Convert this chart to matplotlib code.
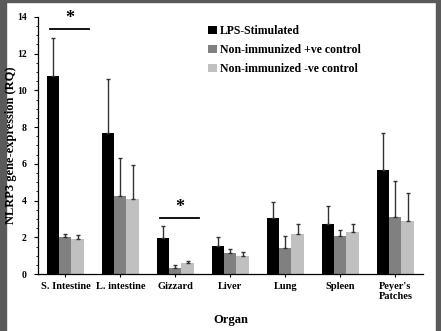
import matplotlib
matplotlib.use("Agg")
import matplotlib.pyplot as plt
from matplotlib.patches import Rectangle
import numpy as np

organs = ["S. Intestine", "L. intestine", "Gizzard", "Liver", "Lung", "Spleen", "Peyer's\nPatches"]
series = ["LPS-Stimulated", "Non-immunized +ve control", "Non-immunized -ve control"]
lps = [10.8, 7.7, 1.96, 1.52, 3.07, 2.7, 5.66]
lps_err = [2.07, 2.94, 0.67, 0.5, 0.83, 1.0, 2.0]
pos = [2.0, 4.27, 0.35, 1.14, 1.42, 2.09, 3.09]
pos_err = [0.2, 2.05, 0.14, 0.2, 0.67, 0.31, 1.99]
neg = [1.9, 4.1, 0.58, 1.0, 2.2, 2.29, 2.9]
neg_err = [0.22, 1.84, 0.11, 0.21, 0.5, 0.41, 1.53]
colors = ["#000000", "#808080", "#c0c0c0"]

plt.rcParams["font.family"] = "Liberation Serif"
plt.rcParams["font.weight"] = "bold"

fig = plt.figure(figsize=(4.41, 3.31), dpi=100)
ax = fig.add_axes([0.086, 0.172, 0.873, 0.777])

x = np.arange(len(organs))
w = 0.22
for i, (vals, errs) in enumerate([(lps, lps_err), (pos, pos_err), (neg, neg_err)]):
    ax.bar(x + (i - 1) * w, vals, w, color=colors[i], label=series[i],
           yerr=[np.zeros(len(errs)), errs], ecolor="#333333",
           error_kw=dict(elinewidth=1.0, capsize=1.5, capthick=1.0))

# significance markers
ax.plot([-0.28, 0.42], [13.35, 13.35], color="black", lw=1.3)
ax.text(0.07, 13.45, "*", ha="center", va="bottom", fontsize=13, fontweight="bold")
ax.plot([1.72, 2.42], [3.07, 3.07], color="black", lw=1.3)
ax.text(2.07, 3.17, "*", ha="center", va="bottom", fontsize=13, fontweight="bold")

ax.set_xlim(-0.5, len(organs) - 0.5)
ax.set_ylim(0, 14)
ax.set_yticks(np.arange(0, 15, 2))
ax.set_yticks(np.arange(0, 14.1, 0.5), minor=True)
ax.set_xticks(x)
ax.set_xticklabels(organs, fontsize=7.5, fontweight="bold", linespacing=1.2)
ax.tick_params(axis="y", labelsize=7, length=3, width=0.8, pad=5)
ax.tick_params(axis="y", which="minor", length=1.5, width=0.6)
ax.tick_params(axis="x", length=2, width=0.8)
for s in ["top", "right"]:
    ax.spines[s].set_visible(False)
for s in ["left", "bottom"]:
    ax.spines[s].set_linewidth(0.9)

ax.set_xlabel("Organ", fontsize=9, fontweight="bold", labelpad=9)
ax.set_ylabel("NLRP3 gene-expression (RQ)", fontsize=9, fontweight="bold")
ax.yaxis.set_label_coords(-0.054, 0.5)

ax.legend(loc="upper left", bbox_to_anchor=(0.415, 1.01), frameon=False,
          handlelength=0.7, handleheight=0.7, handletextpad=0.3,
          labelspacing=0.6, prop={"family": "Liberation Serif", "weight": "bold", "size": 8.5})

# screenshot frame
for r in [(0, 0, 6 / 441, 1), (436 / 441, 0, 5 / 441, 1), (0, 1 - 2 / 331, 1, 2 / 331)]:
    fig.patches.append(Rectangle(r[:2], r[2], r[3], transform=fig.transFigure,
                                 color="#5a5a5a", zorder=-1))

fig.savefig("out.png", dpi=100)
